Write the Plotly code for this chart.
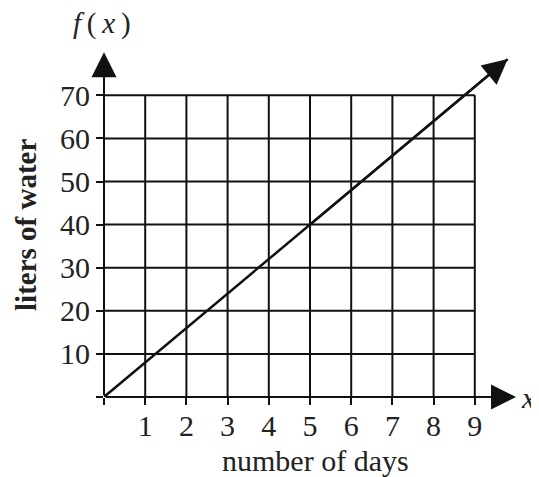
import plotly.graph_objects as go

# ---- data ----
x_ticks = [0, 1, 2, 3, 4, 5, 6, 7, 8, 9]
x_tick_labels = ["", "1", "2", "3", "4", "5", "6", "7", "8", "9"]
y_ticks = [0, 10, 20, 30, 40, 50, 60, 70]
y_tick_labels = ["", "10", "20", "30", "40", "50", "60", "70"]
line_days = [0, 5, 9.8]
line_liters = [0, 40, 78.4]
x_axis_end = 10
y_axis_end = 80
x_title = "number of days"
y_title = "liters of water"

INK = "#111111"
SERIF = "Liberation Serif, Times New Roman, serif"

fig = go.Figure()

# main line
fig.add_trace(go.Scatter(x=line_days, y=line_liters, mode="lines",
                         line=dict(color=INK, width=2.5), hoverinfo="skip",
                         showlegend=False, cliponaxis=False))

shapes = []
for xv in x_ticks[1:]:
    shapes.append(dict(type="line", xref="x", yref="y", x0=xv, x1=xv,
                       y0=y_ticks[0], y1=y_ticks[-1],
                       line=dict(color=INK, width=2), layer="below"))
for yv in y_ticks[1:]:
    shapes.append(dict(type="line", xref="x", yref="y", x0=x_ticks[0], x1=x_ticks[-1],
                       y0=yv, y1=yv, line=dict(color=INK, width=2), layer="below"))

annotations = [
    # x axis with arrow
    dict(x=x_axis_end, y=0, ax=0, ay=0, xref="x", yref="y", axref="x", ayref="y",
         text="", showarrow=True, arrowhead=2, arrowsize=2.5, arrowwidth=2,
         arrowcolor=INK),
    # y axis with arrow
    dict(x=0, y=y_axis_end, ax=0, ay=0, xref="x", yref="y", axref="x", ayref="y",
         text="", showarrow=True, arrowhead=2, arrowsize=2.5, arrowwidth=2,
         arrowcolor=INK),
    # arrowhead on the function line
    dict(x=line_days[-1], y=line_liters[-1], ax=line_days[-2], ay=line_liters[-2],
         xref="x", yref="y", axref="x", ayref="y",
         text="", showarrow=True, arrowhead=2, arrowsize=2, arrowwidth=2.5,
         arrowcolor=INK),
    # f(x) label
    dict(x=-0.005, y=1.045, xref="paper", yref="paper",
         text="<i>f</i>\u2009(\u2009<i>x</i>\u2009)", showarrow=False,
         font=dict(family=SERIF, size=29, color="#222"),
         xanchor="center", yanchor="middle"),
    # x label
    dict(x=0.975, y=0, xref="paper", yref="paper",
         text="<i>x</i>", showarrow=False,
         font=dict(family=SERIF, size=30, color="#222"),
         xanchor="left", yanchor="middle"),
    # x title
    dict(x=0.496, y=-0.178, xref="paper", yref="paper",
         text=x_title, showarrow=False,
         font=dict(family=SERIF, size=30, color="#222"),
         xanchor="center", yanchor="middle"),
    # y title
    dict(x=-0.183, y=0.482, xref="paper", yref="paper",
         text="<b>" + y_title + "</b>", showarrow=False, textangle=-90,
         font=dict(family=SERIF, size=29, color="#222"),
         xanchor="center", yanchor="middle"),
]

# page body has an 8px margin, so the figure is shifted accordingly
fig.update_layout(
    width=531, height=469,
    margin=dict(l=96, r=9, t=32, b=80),
    paper_bgcolor="white", plot_bgcolor="white",
    shapes=shapes, annotations=annotations,
    xaxis=dict(range=[0, 10.34], tickvals=x_ticks, ticktext=x_tick_labels,
               ticks="outside", ticklen=7, tickwidth=2, tickcolor=INK,
               showgrid=False, zeroline=False, showline=False,
               ticklabelstandoff=-5,
               tickfont=dict(family=SERIF, size=30, color="#222"),
               fixedrange=True),
    yaxis=dict(range=[0, 82.83], tickvals=y_ticks, ticktext=y_tick_labels,
               ticks="outside", ticklen=7, tickwidth=2, tickcolor=INK,
               showgrid=False, zeroline=False, showline=False,
               tickfont=dict(family=SERIF, size=30, color="#222"),
               fixedrange=True),
)

fig.write_html("out.html")
